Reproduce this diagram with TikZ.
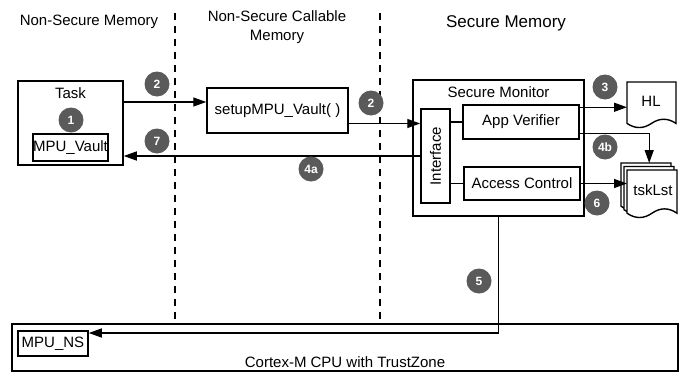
\documentclass[tikz,border=0pt]{standalone}
\usepackage{fontspec}
\setmainfont{Liberation Sans}
\usetikzlibrary{arrows.meta,calc}
\definecolor{badgegray}{HTML}{5A5A5A}

% a "document" sheet with a wavy lower edge, plus a named frame node over it
% #1 name, #2 left, #3 top, #4 width, #5 height
\newcommand{\docsheet}[5]{%
  \draw[sheet] (#2,#3) -- ({#2+#4},#3) -- ({#2+#4},{#3+0.9*#5})
    .. controls ({#2+5*#4/6},{#3+0.78*#5}) and ({#2+2*#4/3},{#3+0.78*#5}) .. ({#2+0.5*#4},{#3+0.9*#5})
    .. controls ({#2+#4/3},{#3+1.02*#5}) and ({#2+#4/6},{#3+1.02*#5}) .. (#2,{#3+0.9*#5}) -- cycle;
  \node[inner sep=0pt, minimum width=#4pt, minimum height=#5pt, anchor=north west] (#1) at (#2,#3) {};}

\begin{document}
\begin{tikzpicture}[x=1pt,y=-1pt,
  font=\fontsize{15}{19}\selectfont,
  box/.style={draw, line width=1.5pt, inner sep=0pt, fill=white},
  arr/.style={line width=1.4pt, -{Triangle[length=13pt,width=9pt]}},
  link/.style={line width=1.4pt},
  badge/.style={circle, fill=badgegray, text=white, minimum size=25pt, inner sep=0pt,
                font=\fontsize{12}{12}\selectfont\bfseries},
  divider/.style={line width=1.3pt, dash pattern=on 7pt off 6pt},
  sheet/.style={draw, line width=1.4pt, fill=white}]

\useasboundingbox (0,0) rectangle (688,375);

% column headings
\node (hdrns) at (89,22) {Non-Secure Memory};
\node[align=center] (hdrnsc) at (277,27.5) {Non-Secure Callable\\Memory};
\node[font=\fontsize{17}{20}\selectfont] (hdrs) at (506,23) {Secure Memory};

% region dividers
\draw[divider] (175,13) -- (175,321);
\draw[divider] (380,13) -- (380,321);

% CPU
\node[box, minimum width=666pt, minimum height=47pt] (cpu) at (345,347.5) {};
\node (cpulbl) at (345,362) {Cortex-M CPU with TrustZone};
\node[box, minimum width=70pt, minimum height=25pt] (mpuns) at (53,343.5) {MPU\_NS};

% non-secure task
\node[box, minimum width=105pt, minimum height=84pt] (task) at (70.5,123) {};
\node (tasklbl) at (70.5,93) {Task};
\node[box, minimum width=75pt, minimum height=27pt] (vault) at (70.5,147.5) {MPU\_Vault};

% veneer
\node[box, minimum width=141pt, minimum height=45pt] (setup) at (277.5,110.5) {setupMPU\_Vault( )};

% secure monitor
\node[box, minimum width=171pt, minimum height=136pt] (sm) at (498.5,148) {};
\node (smlbl) at (498.5,92) {Secure Monitor};
\node[box, minimum width=29pt, minimum height=94pt] (intf) at (435.5,156) {\rotatebox{90}{Interface}};
\node[box, minimum width=116pt, minimum height=34pt] (av) at (521,122) {App Verifier};
\node[box, minimum width=116pt, minimum height=33pt] (ac) at (522,183.5) {Access Control};

% data stores
\docsheet{hl}{627}{82}{49}{46}
\node (hllbl) at (651,101) {HL};
\docsheet{tskback}{621}{163}{50}{48}
\docsheet{tskmid}{624}{166.5}{50}{48}
\docsheet{tskfront}{627}{170}{50}{48}
\node (tsklbl) at (653,190) {tskLst};

% connectors
\draw[arr] ([yshift=21pt]task.east) -- ([yshift=21pt]task.east -| setup.west);
\draw[arr] ([yshift=-13pt]setup.east) -- ([yshift=-13pt]setup.east -| intf.west);
\draw[arr] (intf.west) -- (intf.west -| task.east);
\draw[link] (intf.east |- av.west) -- (av.west);
\draw[link] (intf.east |- ac.west) -- (ac.west);
\draw[arr] ([yshift=-3pt]av.north east) -- ([yshift=-3pt]av.north east -| hl.west);
\draw[arr] ([yshift=6pt]av.south east) -| (tskmid.north |- tskback.north);
\draw[arr] (ac.east) -- (ac.east -| tskfront.west);
\draw[arr] (sm.south) |- ([yshift=10.5pt]mpuns.east);

% step badges
\node[badge] (n1) at (71,120) {1};
\node[badge] (n2a) at (157,84) {2};
\node[badge] (n2b) at (371,103) {2};
\node[badge] (n7) at (157,141) {7};
\node[badge] (n4a) at (311,169) {4a};
\node[badge] (n3) at (605,87) {3};
\node[badge] (n4b) at (605,147) {4b};
\node[badge] (n6) at (597,203) {6};
\node[badge] (n5) at (479,281) {5};
\end{tikzpicture}
\end{document}
